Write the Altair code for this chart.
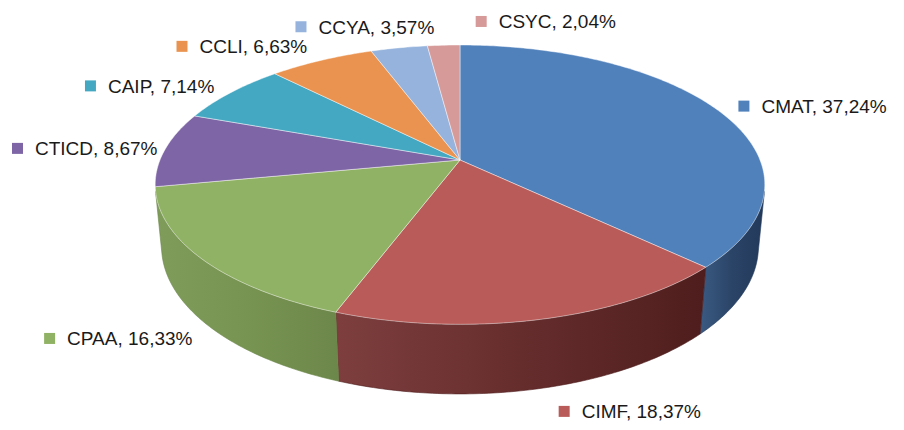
import numpy as np
import pandas as pd
import altair as alt

# ---- data ----
categories = ["CMAT", "CIMF", "CPAA", "CTICD", "CAIP", "CCLI", "CCYA", "CSYC"]
values = [37.24, 18.37, 16.33, 8.67, 7.14, 6.63, 3.57, 2.04]
top_colors = ["#5181bb", "#b95c59", "#90b264", "#7e65a5", "#45a8c3", "#ea9350", "#95b3dc", "#d69a99"]
side_gradients = {
    "CMAT": ["#3b5a82", "#2a4467", "#22395a"],
    "CIMF": ["#7e3e3e", "#662d2d", "#4f1d1d"],
    "CPAA": ["#7f9c5a", "#789452", "#6c874a"],
}

# ---- 3D projection parameters (camera view of a tilted disc) ----
F = 1515.0          # focal scale (px)
DIST = 5.05         # camera distance (disc radius units)
S_E = 0.451         # sin(elevation)
C_E = float(np.sqrt(1 - S_E ** 2))
H = 0.232           # disc thickness
X_MIN, X_MAX = -452, 436   # plot extent relative to the pie apex (px)
Y_MIN, Y_MAX = -152, 262


def proj(theta_deg, r=1.0, z=0.0):
    t = np.radians(theta_deg)
    X = r * np.sin(t)
    Y = r * np.cos(t)
    depth = DIST + Y * C_E - z * S_E
    sx = F * X / depth
    sy = -F * (Y * S_E + z * C_E) / depth
    return sx, sy


total = float(sum(values))
ends = 360.0 * np.cumsum(values) / total
starts = np.concatenate([[0.0], ends[:-1]])

vis_a = float(np.degrees(np.arccos(-1.0 / (DIST * C_E))))
vis_b = 360.0 - vis_a

# top faces
top_rows = []
for cat, a, b in zip(categories, starts, ends):
    n = max(4, int(np.ceil((b - a) / 0.75)))
    ts = np.linspace(a, b, n)
    pts = [(0.0, 0.0)] + [proj(t) for t in ts] + [(0.0, 0.0)]
    for k, (x, y) in enumerate(pts):
        top_rows.append({"cat": cat, "ord": k, "x": x, "y": y})
tops = pd.DataFrame(top_rows)

# visible side walls
side_rows = []
for cat, a, b in zip(categories, starts, ends):
    aa, bb = max(a, vis_a), min(b, vis_b)
    if bb <= aa:
        continue
    n = max(4, int(np.ceil((bb - aa) / 0.75)))
    ts = np.linspace(aa, bb, n)
    pts = [proj(t) for t in ts] + [proj(t, z=-H) for t in ts[::-1]] + [proj(ts[0])]
    for k, (x, y) in enumerate(pts):
        side_rows.append({"cat": cat, "ord": k, "x": x, "y": y})
sides = pd.DataFrame(side_rows)

# ---- labels ----
FS = 19
AW = {'C': .722, 'M': .833, 'A': .667, 'T': .611, 'I': .278, 'F': .611, 'P': .667,
      'D': .722, 'L': .556, 'Y': .667, 'S': .667, ',': .278, ' ': .278, '%': .889}


def text_w(s):
    return FS * sum(AW.get(ch, .556) for ch in s)


lab_rows = []
boxes = []
for cat, v, a, b in zip(categories, values, starts, ends):
    m = (a + b) / 2
    z = -H if np.cos(np.radians(m)) < -1.0 / (DIST * C_E) else 0.0
    ax, ay = proj(m, z=z)
    nrm = np.hypot(ax, ay)
    ux, uy = ax / nrm, ay / nrm
    txt = f"{cat}, {v:.2f}".replace(".", ",") + "%"
    W = 23 + text_w(txt)
    if uy < 0 and abs(ux) < 0.5:
        left = ax + ux * W / 2 - W / 2
    elif ux >= 0:
        left = ax + 20
    else:
        left = ax - 14 - W
    left = min(max(left, X_MIN + 4), X_MAX - 2 - W)   # keep inside the chart
    cy = ay + 24 * uy
    # simple collision avoidance: push later label to the right
    for (l0, r0, c0) in boxes:
        if abs(cy - c0) < 16 and left < r0 + 40 and left + W > l0:
            left = r0 + 40
    boxes.append((left, left + W, cy))
    lab_rows.append({"cat": cat, "text": txt, "sqx": left + 5.5, "tx": left + 23, "ly": cy})
labels = pd.DataFrame(lab_rows)

# ---- chart ----
xs = alt.Scale(domain=[X_MIN, X_MAX], nice=False, zero=False)
ys = alt.Scale(domain=[Y_MIN, Y_MAX], nice=False, zero=False, reverse=True)

layers = []
for cat, stops in side_gradients.items():
    grad = alt.Gradient(
        gradient="linear",
        stops=[alt.GradientStop(color=stops[0], offset=0),
               alt.GradientStop(color=stops[1], offset=0.5),
               alt.GradientStop(color=stops[2], offset=1)],
        x1=0, x2=1, y1=0, y2=0,
    )
    layers.append(
        alt.Chart(sides)
        .transform_filter(alt.datum.cat == cat)
        .mark_line(fill=grad, stroke=stops[2], strokeWidth=0.6)
        .encode(
            x=alt.X("x:Q", scale=xs, axis=None),
            y=alt.Y("y:Q", scale=ys, axis=None),
            order="ord:Q",
        )
    )

layers.append(
    alt.Chart(tops)
    .mark_line(stroke="#ffffff", strokeWidth=0.8, strokeOpacity=0.55)
    .encode(
        x=alt.X("x:Q", scale=xs, axis=None),
        y=alt.Y("y:Q", scale=ys, axis=None),
        order="ord:Q",
        detail="cat:N",
        fill=alt.Fill("cat:N", scale=alt.Scale(domain=categories, range=top_colors), legend=None),
    )
)

layers.append(
    alt.Chart(labels)
    .mark_square(size=121, opacity=1, filled=True)
    .encode(
        x=alt.X("sqx:Q", scale=xs, axis=None),
        y=alt.Y("ly:Q", scale=ys, axis=None),
        color=alt.Color("cat:N", scale=alt.Scale(domain=categories, range=top_colors), legend=None),
    )
)

layers.append(
    alt.Chart(labels)
    .mark_text(align="left", baseline="middle", font="Liberation Sans", fontSize=FS, color="#1a1a1a", dy=1)
    .encode(
        x=alt.X("tx:Q", scale=xs, axis=None),
        y=alt.Y("ly:Q", scale=ys, axis=None),
        text="text:N",
    )
)

chart = (
    alt.layer(*layers)
    .properties(width=888, height=414, padding=0, autosize=alt.AutoSizeParams(type="none"), background="white")
    .configure_view(strokeWidth=0)
)

chart.save("out.html", embed_options={"renderer": "svg", "actions": False})
